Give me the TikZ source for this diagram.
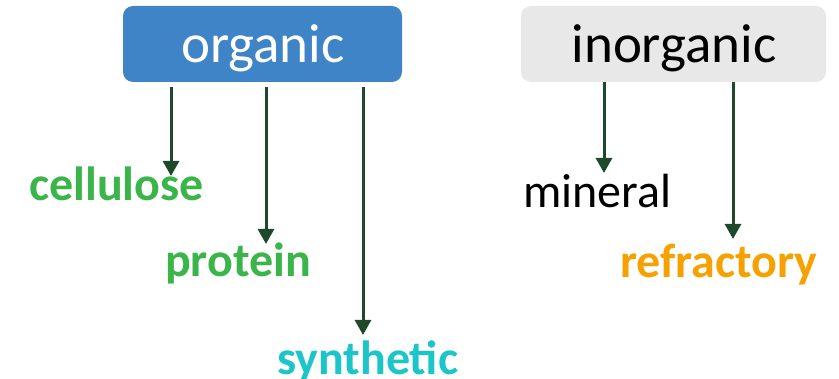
\documentclass[tikz,border=0pt]{standalone}
\usepackage{fontspec}
\setmainfont{Carlito}
\usetikzlibrary{arrows.meta}
\definecolor{orgblue}{HTML}{3F84C7}
\definecolor{inorggray}{HTML}{E8E8E8}
\definecolor{arrowgreen}{HTML}{1E4A2B}
\definecolor{leafgreen}{HTML}{3BB54A}
\definecolor{synthcyan}{HTML}{1BC5C9}
\definecolor{refrorange}{HTML}{F7A100}
\begin{document}
\begin{tikzpicture}[x=1pt,y=-1pt,
  catbox/.style={rounded corners=10pt, inner sep=0pt},
  link/.style={draw=arrowgreen, line width=3pt, -{Triangle[width=16pt,length=15pt]}},
  leaf/.style={anchor=base west, inner sep=0pt, font=\fontsize{48}{52}\selectfont\bfseries},
  plain/.style={anchor=base west, inner sep=0pt, font=\fontsize{48}{52}\selectfont}]
\useasboundingbox (0,0) rectangle (839,379);
% category boxes
\fill[orgblue, catbox] (123,6) rectangle (402,82);
\fill[inorggray, catbox] (521,6) rectangle (826,82);
\node[anchor=base, inner sep=0pt, text=white, font=\fontsize{55}{58}\selectfont] (organic) at (263,63) {organic};
\node[anchor=base, inner sep=0pt, text=black, font=\fontsize{55}{58}\selectfont] (inorganic) at (674,63) {inorganic};
% leaves
\node[leaf, text=leafgreen] (cellulose) at (29,201) {cellulose};
\node[leaf, text=leafgreen] (protein) at (165,277) {protein};
\node[leaf, text=synthcyan] (synthetic) at (277,375) {synthetic};
\node[plain, text=black] (mineral) at (523,208) {mineral};
\node[leaf, text=refrorange] (refractory) at (620,278) {refractory};
% anchor points for connectors
\coordinate (o1) at (171,87);
\coordinate (o2) at (266,87);
\coordinate (o3) at (363,87);
\coordinate (i1) at (604,82);
\coordinate (i2) at (733,82);
\coordinate (c1) at (171,176);
\coordinate (p1) at (266,244);
\coordinate (s1) at (363,335);
\coordinate (m1) at (604,173);
\coordinate (r1) at (733,239);
\draw[link] (o1) -- (c1);
\draw[link] (o2) -- (p1);
\draw[link] (o3) -- (s1);
\draw[link] (i1) -- (m1);
\draw[link] (i2) -- (r1);
\end{tikzpicture}
\end{document}
